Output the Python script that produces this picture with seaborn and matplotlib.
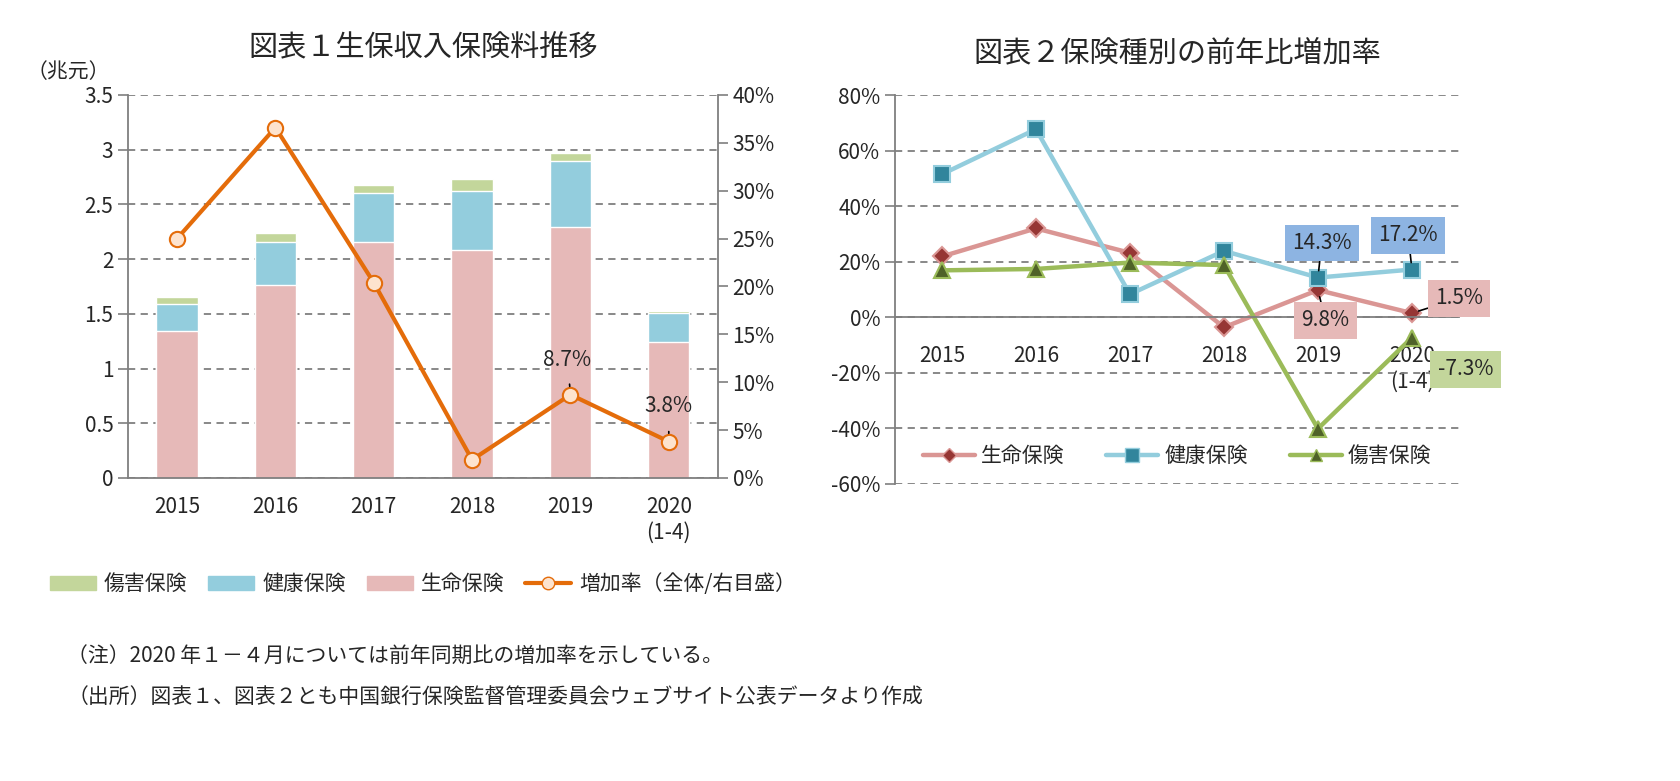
import matplotlib
matplotlib.use("Agg")
import matplotlib.pyplot as plt
import matplotlib.ticker as ticker
from matplotlib.patches import Patch
from matplotlib.lines import Line2D
import seaborn as sns
import pandas as pd

# データ ------------------------------------------
years = ["2015", "2016", "2017", "2018", "2019", "2020\n(1-4)"]
seimei = [1.34, 1.76, 2.16, 2.08, 2.29, 1.24]      # 生命保険 (兆元)
kenko = [0.25, 0.40, 0.44, 0.54, 0.61, 0.27]       # 健康保険
shogai = [0.06, 0.08, 0.08, 0.11, 0.07, 0.015]     # 傷害保険
zoka = [25.0, 36.6, 20.4, 1.9, 8.7, 3.8]           # 増加率（全体, %）

rate_seimei = [21.9, 32.0, 23.2, -3.6, 9.8, 1.5]
rate_kenko = [51.5, 67.7, 8.3, 23.9, 14.3, 17.2]
rate_shogai = [16.9, 17.4, 19.7, 18.8, -40.1, -7.3]

sns.set_theme(style="white")
plt.rcParams['font.family'] = ['Noto Sans CJK JP', 'DejaVu Sans']

c_pink = '#E6B9B8'
c_blue = '#93CDDD'
c_green = '#C3D69B'
c_orange = '#E46C0A'
grid_c = '#7F7F7F'
fs = 15

df = pd.DataFrame({'year': years, 'seimei': seimei, 'kenko': kenko, 'shogai': shogai})
df['top_kenko'] = df['seimei'] + df['kenko']
df['top_shogai'] = df['top_kenko'] + df['shogai']

fig = plt.figure(figsize=(16.81, 7.81), dpi=100)

# 図表1 ------------------------------------------
ax = fig.add_axes([0.0761, 0.388, 0.351, 0.4904])
ax.set_axisbelow(True)
for col, c in [('top_shogai', c_green), ('top_kenko', c_blue), ('seimei', c_pink)]:
    sns.barplot(data=df, x='year', y=col, color=c, saturation=1, width=0.42, ax=ax)
ax.set_ylim(0, 3.5)
ax.set_xlim(-0.5, 5.5)
ax.set_yticks([0, 0.5, 1, 1.5, 2, 2.5, 3, 3.5])
ax.yaxis.set_major_formatter(ticker.FuncFormatter(lambda v, p: f'{v:g}'))
ax.grid(axis='y', color=grid_c, linestyle=(0, (4, 3)), linewidth=1.3)
ax.set_xlabel('')
ax.set_ylabel('')
ax.set_xticks([i - 0.5 for i in range(7)], minor=True)
ax.tick_params(axis='x', which='major', length=0, pad=13, labelsize=fs)
ax.tick_params(axis='x', which='minor', length=7, width=1.2, color=grid_c, direction='out')
ax.tick_params(axis='y', length=7, width=1.2, color=grid_c, direction='out', labelsize=fs, left=True)
for s in ['top', 'right']:
    ax.spines[s].set_visible(False)
for s in ['left', 'bottom']:
    ax.spines[s].set_color(grid_c)
    ax.spines[s].set_linewidth(1.3)

ax2 = ax.twinx()
sns.pointplot(x=years, y=zoka, ax=ax2, color=c_orange, markers='o', linestyles='-',
              markersize=11, linewidth=3, markerfacecolor='#FDE3CE',
              markeredgecolor=c_orange, markeredgewidth=1.5)
ax2.set_ylim(0, 40)
ax2.set_yticks(range(0, 41, 5))
ax2.yaxis.set_major_formatter(ticker.FuncFormatter(lambda v, p: f'{v:.0f}%'))
ax2.tick_params(axis='y', length=7, width=1.2, color=grid_c, direction='out', labelsize=fs, right=True)
ax2.set_xlim(-0.5, 5.5)
for s in ['top', 'left', 'bottom']:
    ax2.spines[s].set_visible(False)
ax2.spines['right'].set_color(grid_c)
ax2.spines['right'].set_linewidth(1.3)
ax2.grid(False)

ax2.annotate('8.7%', xy=(4, 8.7), xytext=(3.97, 12.3), ha='center', va='center', fontsize=fs,
             arrowprops=dict(arrowstyle='-', color='black', lw=1.2, shrinkA=7, shrinkB=6))
ax2.annotate('3.8%', xy=(5, 3.8), xytext=(5.0, 7.5), ha='center', va='center', fontsize=fs,
             arrowprops=dict(arrowstyle='-', color='black', lw=1.2, shrinkA=8, shrinkB=6))

ax.text(-0.03, 1.03, '（兆元）', transform=ax.transAxes, fontsize=fs, ha='right', va='bottom')
ax.set_title('図表１生保収入保険料推移', fontsize=21, pad=28)

handles1 = [Patch(color=c_green, label='傷害保険'), Patch(color=c_blue, label='健康保険'),
            Patch(color=c_pink, label='生命保険'),
            Line2D([], [], color=c_orange, lw=3, marker='o', markersize=9, markerfacecolor='#FDE3CE',
                   markeredgecolor=c_orange, label='増加率（全体/右目盛）')]
ax.legend(handles=handles1, loc='upper center', bbox_to_anchor=(0.5, -0.2), ncol=4, frameon=False,
          fontsize=fs, handlelength=2.2, columnspacing=1.0, handletextpad=0.4)

# 図表2 ------------------------------------------
bx = fig.add_axes([0.5324, 0.3803, 0.3355, 0.498])
bx.set_axisbelow(True)
series = [
    ('生命保険', rate_seimei, '#DA9694', '#963634', 'D', 9),
    ('健康保険', rate_kenko, '#93CDDD', '#31859C', 's', 12),
    ('傷害保険', rate_shogai, '#9BBB59', '#4F6228', '^', 11),
]
handles2 = []
for name, vals, lc, mc, mk, ms in series:
    sns.pointplot(x=years, y=vals, ax=bx, color=lc, markers=mk, linestyles='-', markersize=ms,
                  linewidth=3.2, markerfacecolor=mc, markeredgecolor=lc, markeredgewidth=1.5)
    handles2.append(Line2D([], [], color=lc, lw=3.2, marker=mk, markersize=ms - 2, markerfacecolor=mc,
                           markeredgecolor=lc, label=name))
bx.set_ylim(-60, 80)
bx.set_xlim(-0.5, 5.5)
bx.set_yticks(range(-60, 81, 20))
bx.yaxis.set_major_formatter(ticker.FuncFormatter(lambda v, p: f'{v:.0f}%'))
bx.grid(axis='y', color=grid_c, linestyle=(0, (4, 3)), linewidth=1.3)
bx.set_xlabel('')
bx.set_ylabel('')
bx.spines['bottom'].set_position(('data', 0))
for s in ['top', 'right']:
    bx.spines[s].set_visible(False)
for s in ['left', 'bottom']:
    bx.spines[s].set_color(grid_c)
    bx.spines[s].set_linewidth(1.3)
bx.set_xticks([i - 0.5 for i in range(7)], minor=True)
bx.tick_params(axis='x', which='major', length=0, pad=20, labelsize=fs)
bx.tick_params(axis='x', which='minor', length=8, width=1.2, color=grid_c, direction='out')
bx.tick_params(axis='y', length=7, width=1.2, color=grid_c, direction='out', labelsize=fs, left=True)
bx.set_title('図表２保険種別の前年比増加率', fontsize=21, pad=24)

def box_label(txt, xy, xyt, fc, line=True):
    props = dict(arrowstyle='-', color='black', lw=1.2, shrinkA=0, shrinkB=5) if line else None
    bx.annotate(txt, xy=xy, xytext=xyt, ha='center', va='center', fontsize=fs, annotation_clip=False,
                bbox=dict(boxstyle='square,pad=0.35', fc=fc, ec='none'), arrowprops=props)

box_label('14.3%', (4, 14.3), (4.04, 26.7), '#8DB4E2')
box_label('17.2%', (5, 17.2), (4.96, 29.5), '#8DB4E2')
box_label('9.8%', (4, 9.8), (4.08, -1.1), '#E6B9B8')
box_label('1.5%', (5, 1.5), (5.5, 6.8), '#E6B9B8')
box_label('-7.3%', (5, -7.3), (5.57, -18.7), '#C3D69B', line=False)

bx.legend(handles=handles2, loc='lower center', bbox_to_anchor=(0.5, -0.005), ncol=3, frameon=False,
          fontsize=fs, handlelength=2.5, columnspacing=2.0, handletextpad=0.3)

# 注記 ------------------------------------------
fig.text(0.040, 1 - 657 / 781, '（注）2020 年１－４月については前年同期比の増加率を示している。',
         fontsize=fs, va='center')
fig.text(0.040, 1 - 697 / 781, '（出所）図表１、図表２とも中国銀行保険監督管理委員会ウェブサイト公表データより作成',
         fontsize=fs, va='center')

fig.savefig('out.png', dpi=100, facecolor='white')
